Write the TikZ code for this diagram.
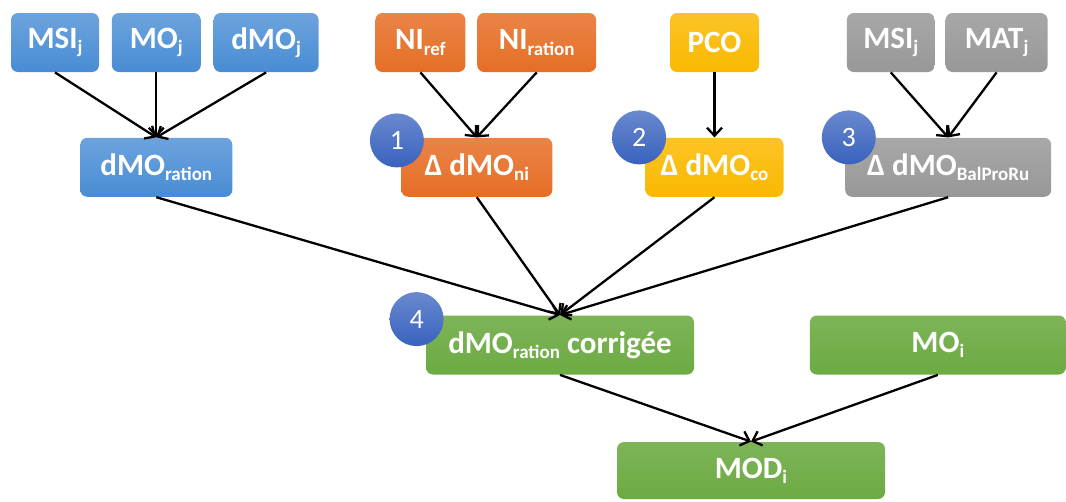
\documentclass[tikz,border=0pt]{standalone}
\usepackage{fontspec}
\setmainfont{Carlito}
\usetikzlibrary{positioning,arrows.meta}
\definecolor{boxblue}{RGB}{72,140,212}
\definecolor{boxorange}{RGB}{230,110,38}
\definecolor{boxyellow}{RGB}{250,185,0}
\definecolor{boxgray}{RGB}{152,152,152}
\definecolor{boxgreen}{RGB}{108,170,66}
\definecolor{numblue}{RGB}{56,98,190}
\newcommand{\idx}[1]{\raisebox{-0.35ex}{\fontsize{19}{19}\selectfont #1}}
\begin{document}
\begin{tikzpicture}[x=1pt, y=1pt, node distance=12pt, thick,
  main/.style = {rounded corners=7pt, text=white, minimum height=59pt, inner sep=2pt, font=\fontsize{31}{36}\selectfont\bfseries},
  bluebox/.style = {main, top color=boxblue!80!white, bottom color=boxblue},
  orangebox/.style = {main, top color=boxorange!85!white, bottom color=boxorange},
  yellowbox/.style = {main, top color=boxyellow!85!white, bottom color=boxyellow},
  graybox/.style = {main, top color=boxgray!85!white, bottom color=boxgray},
  greenbox/.style = {main, top color=boxgreen!88!white, bottom color=boxgreen},
  num/.style = {circle, minimum size=54pt, inner sep=0pt, top color=numblue!75!white, bottom color=numblue, text=white, font=\fontsize{28}{30}\selectfont},
  arr/.style = {-{Straight Barb[length=8pt,width=15pt]}, line width=2.3pt}]
	\useasboundingbox (0,0) rectangle (1066,-501);
	% top row
	\node[bluebox, minimum width=88pt] (msi1) at (55,-42.5) {MSI\idx{j}};
	\node[bluebox, minimum width=89pt] (mo1) [right=of msi1] {MO\idx{j}};
	\node[bluebox, minimum width=105pt] (dmo1) [right=of mo1] {dMO\idx{j}};
	\node[orangebox, minimum width=90pt] (niref) [right=56pt of dmo1] {NI\idx{ref}};
	\node[orangebox, minimum width=119pt] (nirat) [right=11pt of niref] {NI\idx{ration}};
	\node[yellowbox, minimum width=89pt] (pco) [right=73pt of nirat] {PCO};
	\node[graybox, minimum width=88pt] (msi2) [right=87pt of pco] {MSI\idx{j}};
	\node[graybox, minimum width=102pt] (mat) [right=10pt of msi2] {MAT\idx{j}};
	% second row
	\node[bluebox, minimum width=152pt] (dmorat) [below=65pt of mo1] {dMO\idx{ration}};
	\node[orangebox, minimum width=151pt] (dni) [below=65pt of nirat.south west] {Δ dMO\idx{ni}};
	\node[yellowbox, minimum width=138pt] (dco) [below=65pt of pco] {Δ dMO\idx{co}};
	\node[graybox, minimum width=206pt] (dbal) [below=65pt of mat.south west, xshift=3pt] {Δ dMO\idx{BalProRu}};
	% bottom
	\node[greenbox, minimum width=268pt] (corr) at (560,-345) {dMO\idx{ration} corrigée};
	\node[greenbox, minimum width=256pt] (moi) [right=115pt of corr] {MO\idx{i}};
	\node[greenbox, minimum width=268pt, minimum height=57pt] (mod) at (751,-470.5) {MOD\idx{i}};
	\draw[arr] (msi1.south) -- (dmorat.north);
	\draw[arr] (mo1.south) -- (dmorat.north);
	\draw[arr] (dmo1.south) -- (dmorat.north);
	\draw[arr] (niref.south) -- (dni.north);
	\draw[arr] (nirat.south) -- (dni.north);
	\draw[arr] (pco.south) -- (dco.north);
	\draw[arr] (msi2.south) -- (dbal.north);
	\draw[arr] (mat.south) -- (dbal.north);
	\draw[arr] (dmorat.south) -- (corr.north);
	\draw[arr] (dni.south) -- (corr.north);
	\draw[arr] (dco.south) -- (corr.north);
	\draw[arr] (dbal.south) -- (corr.north);
	\draw[arr] (corr.south) -- (mod.north);
	\draw[arr] (moi.south) -- (mod.north);
	% numbers
	\node[num] (n1) at ([shift={(-4,-3)}]dni.north west) {1};
	\node[num] (n2) at ([shift={(-6,0)}]dco.north west) {2};
	\node[num] (n3) at ([shift={(4,0)}]dbal.north west) {3};
	\node[num] (n4) at ([shift={(-9,-4)}]corr.north west) {4};
\end{tikzpicture}
\end{document}
